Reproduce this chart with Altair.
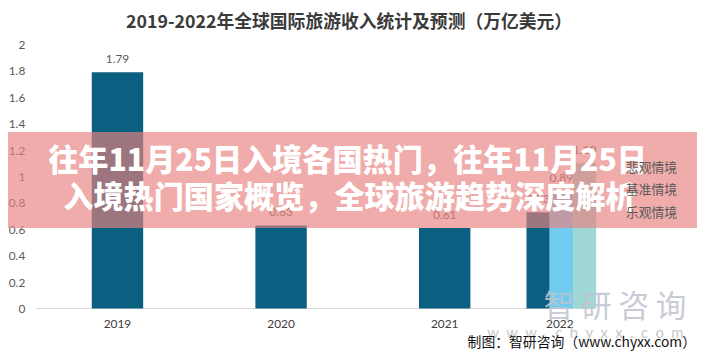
import altair as alt
import pandas as pd

# ---- data ----
years = ["2019", "2020", "2021", "2022"]
actual_years = ["2019", "2020", "2021"]
actual_values = [1.79, 0.63, 0.61]
scenarios = ["悲观情境", "基准情境", "乐观情境"]
scenario_years = ["2022", "2022", "2022"]
scenario_values = [0.73, 0.89, 1.10]
scenario_colors = ["#0b5f80", "#72ccf0", "#a0d8d6"]
y_ticks = [0, 0.2, 0.4, 0.6, 0.8, 1, 1.2, 1.4, 1.6, 1.8, 2]

title_text = "2019-2022年全球国际旅游收入统计及预测（万亿美元）"
banner_line1 = "往年11月25日入境各国热门，往年11月25日"
banner_line2 = "入境热门国家概览，全球旅游趋势深度解析"
footer_text = "制图：智研咨询（www.chyxx.com）"
watermark_main = "智 研 咨 询"
watermark_url = "\u2002".join("www.chyxx.com")

actual_df = pd.DataFrame({"year": actual_years, "value": actual_values})
scen_df = pd.DataFrame({"year": scenario_years, "scenario": scenarios, "value": scenario_values})
one = pd.DataFrame({"k": [0]})

W, H = 662, 267
CJK = "Noto Sans CJK SC"
NUM = "Lato"

x_axis = alt.Axis(
    title=None, domain=False, ticks=False, labelAngle=0, labelFont=NUM,
    labelFontSize=12, labelColor="#404040", labelPadding=10,
    labelOffset={"condition": {"test": "datum.value === '2022'", "value": -49}, "value": 0},
)
x_enc = alt.X("year:N", scale=alt.Scale(domain=years, paddingInner=0, paddingOuter=0), axis=x_axis)
y_axis = alt.Axis(title=None, values=y_ticks, tickCount=11, labelExpr="format(datum.value, '~g')",
                  domain=False, ticks=False, grid=False, labelFont=NUM, labelFontSize=12,
                  labelColor="#595959", labelPadding=11, labelOverlap=False)
y_enc = alt.Y("value:Q", scale=alt.Scale(domain=[0, 2], nice=False), axis=y_axis)
xoff = alt.XOffset("scenario:N", scale=alt.Scale(domain=scenarios, range=[0, 70.5], paddingInner=0, paddingOuter=0))

axis_rule = alt.Chart(one).mark_rule(color="#d9d9d9", strokeWidth=1).encode(
    y=alt.YDatum(0, axis=y_axis), x=alt.value(0), x2=alt.value(567)
)

bars_actual = alt.Chart(actual_df).mark_bar(size=52, color=scenario_colors[0]).encode(x=x_enc, y=y_enc)
labels_actual = alt.Chart(actual_df).mark_text(
    dy=-13, baseline="middle", font=NUM, fontSize=12, color="#595959"
).encode(x=x_enc, y=y_enc, text=alt.Text("value:Q", format=".2f"))

bars_scen = alt.Chart(scen_df).mark_bar().encode(
    x=x_enc, xOffset=xoff, y=y_enc,
    color=alt.Color("scenario:N", scale=alt.Scale(domain=scenarios, range=scenario_colors),
                    legend=alt.Legend(title=None, orient="none", legendX=580, legendY=118,
                                      symbolOpacity=0, symbolSize=100, labelOffset=4, padding=0,
                                      rowPadding=9, labelFont=CJK, labelFontSize=13,
                                      labelColor="#595959")),
)
labels_scen = alt.Chart(scen_df).mark_text(
    dy=-13, baseline="middle", font=NUM, fontSize=12, color="#595959"
).encode(x=x_enc, xOffset=xoff, y=y_enc, text=alt.Text("value:Q", format=".2f"))

wm_main = alt.Chart(one).mark_text(
    font=CJK, fontSize=31, color="#bfc4cf", opacity=0.85, align="center", baseline="middle"
).encode(x=alt.value(586), y=alt.value(266.5), text=alt.value(watermark_main))
wm_url = alt.Chart(one).mark_text(
    font=NUM, fontSize=15, color="#c8c8c8", align="center", baseline="middle"
).encode(x=alt.value(556), y=alt.value(291.5), text=alt.value(watermark_url))

banner = alt.Chart(one).mark_rect(color="#e8817e", opacity=0.66).encode(
    x=alt.value(-28), x2=alt.value(669), y=alt.value(88.5), y2=alt.value(185.5)
)
banner_t1 = alt.Chart(one).mark_text(
    font=CJK, fontSize=30.5, fontWeight=900, color="white", align="center", baseline="middle"
).encode(x=alt.value(315.5), y=alt.value(118.5), text=alt.value(banner_line1))
banner_t2 = alt.Chart(one).mark_text(
    font=CJK, fontSize=30.5, fontWeight=900, color="white", align="center", baseline="middle"
).encode(x=alt.value(317.5), y=alt.value(156.5), text=alt.value(banner_line2))

title = alt.Chart(one).mark_text(
    font=CJK, fontSize=18, fontWeight="bold", color="#3a3a3a", align="center", baseline="middle"
).encode(x=alt.value(317), y=alt.value(-22), text=alt.value(title_text))
footer = alt.Chart(one).mark_text(
    font=CJK, fontSize=14, color="#111111", align="right", baseline="middle"
).encode(x=alt.value(668), y=alt.value(301.5), text=alt.value(footer_text))

chart = alt.layer(
    axis_rule, bars_actual, labels_actual, bars_scen, labels_scen,
    wm_main, wm_url, banner, banner_t1, banner_t2, title, footer
).properties(
    width=W, height=H,
    autosize=alt.AutoSizeParams(type="none"),
    padding={"left": 28, "top": 35, "right": 7, "bottom": 44},
).configure_view(stroke=None).configure_axisY(labelOverlap=False)

chart.save("out.html", embed_options={"renderer": "svg", "actions": False})
